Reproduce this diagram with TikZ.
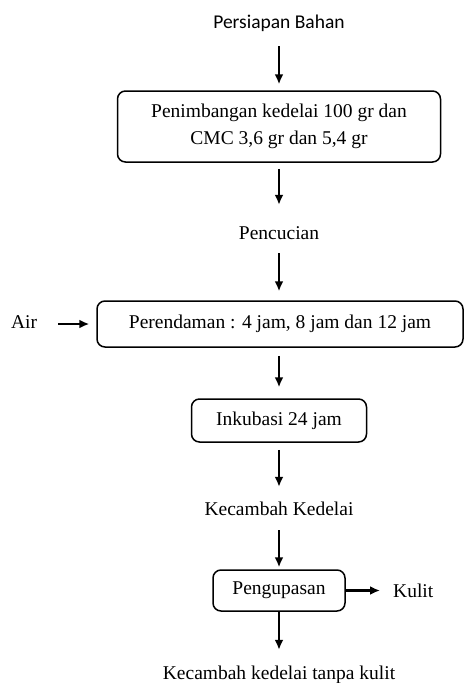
\documentclass[tikz,border=0pt]{standalone}
\usepackage{fontspec}
\setmainfont{Liberation Serif}
\newfontfamily\calib{Carlito}
\usetikzlibrary{arrows.meta}
\begin{document}
\begin{tikzpicture}[x=1pt,y=-1pt,
  txt/.style={inner sep=0pt,anchor=base,text height=14pt,text depth=4pt,font=\fontsize{19.5}{27}\selectfont},
  box/.style={draw,line width=1.5pt,rounded corners=8pt,inner sep=0pt,align=center,font=\fontsize{19.5}{27}\selectfont},
  arr/.style={line width=2.2pt,-{Latex[length=10pt,width=9pt]}}]
\useasboundingbox (0,0) rectangle (465,683);
\node[txt,font=\calib\fontsize{19.5}{27}\selectfont] (p) at (279,28) {Persiapan Bahan};
\node[box,minimum width=323pt,minimum height=71pt] (b1) at (279,126.5) {Penimbangan kedelai 100 gr dan\\CMC 3,6 gr dan 5,4 gr};
\node[txt] (c) at (279,239) {Pencucian};
\node[box,minimum width=366pt,minimum height=46pt] (b2) at (280,324) {Perendaman : 4 jam, 8 jam dan 12 jam};
\node[txt] (air) at (24,328) {Air};
\node[box,minimum width=175pt,minimum height=43pt] (b3) at (279,420.5) {Inkubasi 24 jam};
\node[txt] (kk) at (279,515) {Kecambah Kedelai};
\node[box,minimum width=132pt,minimum height=41pt] (b4) at (279,590.5) {Pengupasan};
\node[txt,anchor=base west] (kul) at (393,597) {Kulit};
\node[txt] (kt) at (279,679) {Kecambah kedelai tanpa kulit};
\draw[arr,shorten <=14pt,shorten >=6pt] (p) -- (b1);
\draw[arr,shorten <=6pt,shorten >=20pt] (b1) -- (c);
\draw[arr,shorten <=10pt,shorten >=9pt] (c) -- (c |- b2.north);
\draw[arr,shorten <=8pt,shorten >=11pt] (c |- b2.south) -- (b3);
\draw[arr,shorten <=7pt,shorten >=14pt] (b3) -- (kk);
\draw[arr,shorten <=11pt,shorten >=2pt] (kk) -- (b4);
\draw[arr,shorten >=15pt] (b4) -- (kt);
\draw[arr,shorten <=21pt,shorten >=7pt] (air.east |- b2.west) -- (b2.west);
\draw[arr,shorten >=13pt] (b4.east) -- (kul.west |- b4.east);
\end{tikzpicture}
\end{document}
